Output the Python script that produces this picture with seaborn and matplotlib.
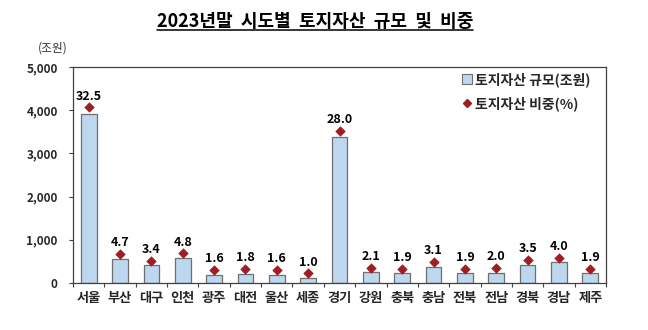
import matplotlib
matplotlib.use("Agg")
import matplotlib.pyplot as plt
import seaborn as sns
import numpy as np
import pandas as pd
from matplotlib.lines import Line2D
from matplotlib.ticker import FixedLocator, FuncFormatter

regions = ["서울", "부산", "대구", "인천", "광주", "대전", "울산", "세종", "경기",
           "강원", "충북", "충남", "전북", "전남", "경북", "경남", "제주"]
land_assets = [3920, 567, 410, 579, 193, 217, 193, 121, 3377,
               253, 229, 374, 229, 241, 422, 482, 229]
shares = [32.5, 4.7, 3.4, 4.8, 1.6, 1.8, 1.6, 1.0, 28.0,
          2.1, 1.9, 3.1, 1.9, 2.0, 3.5, 4.0, 1.9]
y_ticks = [0, 1000, 2000, 3000, 4000, 5000]

df = pd.DataFrame({"region": regions, "assets": land_assets, "share": shares})

sns.set_theme(style="white")
plt.rcParams["font.family"] = ["Noto Sans CJK KR", "DejaVu Sans"]

bar_color = "#BDD7EE"
edge_color = "#6F6F6F"
mark_color = "#A01E22"

fig = plt.figure(figsize=(6.48, 3.30), dpi=100)
ax = fig.add_axes([0.1127, 0.1424, 0.8225, 0.6546])

sns.barplot(data=df, x="region", y="assets", color=bar_color, edgecolor=edge_color,
            linewidth=0.9, width=0.5, saturation=1, ax=ax)
ax.set_xlim(-0.5, len(regions) - 0.5)
ax.set_ylim(0, 5000)
ax.set_xlabel("")
ax.set_ylabel("")
ax.yaxis.set_major_locator(FixedLocator(y_ticks))
ax.yaxis.set_major_formatter(FuncFormatter(lambda v, p: f"{int(v):,}"))
for lab in ax.get_yticklabels():
    lab.set_fontweight("bold")
    lab.set_fontsize(8.5)
ax.tick_params(axis="y", which="major", length=3, width=0.8, color="#404040",
               left=True, pad=8)
ax.tick_params(axis="x", which="major", length=0, pad=6)
ax.set_xticks(np.arange(len(regions) + 1) - 0.5, minor=True)
ax.tick_params(axis="x", which="minor", length=3, width=0.8, color="#404040", bottom=True)
ax.set_xticklabels(regions, fontsize=9.5, fontweight="bold")
for s in ax.spines.values():
    s.set_color("#404040")
    s.set_linewidth(0.9)
    s.set_visible(True)

ax2 = ax.twinx()
ax2.set_ylim(-0.82, 40.16)
sns.scatterplot(data=df, x="region", y="share", marker="D", color=mark_color,
                s=24, edgecolor=mark_color, ax=ax2, zorder=5, legend=False)
ax2.set_yticks([])
ax2.set_ylabel("")
for s in ax2.spines.values():
    s.set_visible(False)
for i, v in enumerate(shares):
    ax2.annotate(f"{v:.1f}", (i, v), xytext=(0, 3.5), textcoords="offset points",
                 ha="center", va="bottom", fontsize=9, fontweight="bold", color="black")

handles = [
    Line2D([0], [0], marker="s", linestyle="none", markersize=6.5,
           markerfacecolor=bar_color, markeredgecolor=edge_color, markeredgewidth=0.8),
    Line2D([0], [0], marker="D", linestyle="none", markersize=4.5,
           markerfacecolor=mark_color, markeredgecolor=mark_color),
]
leg = ax2.legend(handles, ["토지자산 규모(조원)", "토지자산 비중(%)"], loc="upper right",
                 bbox_to_anchor=(0.995, 1.035), frameon=False, handletextpad=0.1,
                 handlelength=1.0, labelspacing=0.7, prop={"weight": "bold", "size": 10})

t = fig.text(0.486, 0.935, "2023년말  시도별  토지자산  규모  및  비중", ha="center", va="center",
             fontsize=13, fontweight="bold", color="black")
fig.text(0.058, 0.855, "(조원)", ha="left", va="center", fontsize=8.5, color="#333333")

fig.canvas.draw()
bb = t.get_window_extent().transformed(fig.transFigure.inverted())
fig.add_artist(Line2D([bb.x0, bb.x1], [bb.y0 + 0.004, bb.y0 + 0.004],
                      transform=fig.transFigure, color="black", linewidth=1.1))

fig.savefig("out.png", dpi=100)
